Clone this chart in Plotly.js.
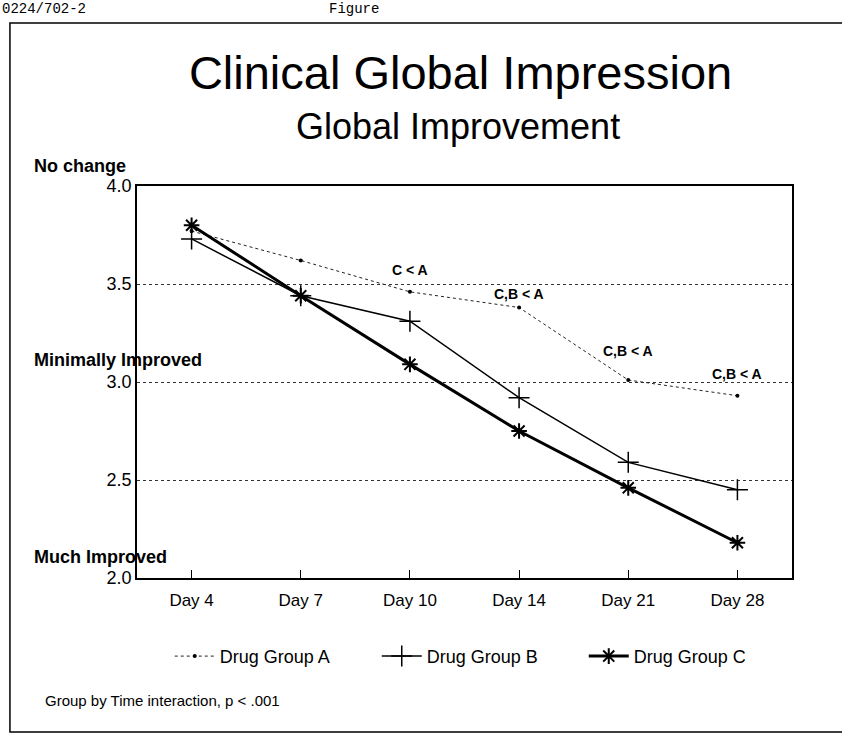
<!DOCTYPE html>
<html>
<head>
<meta charset="utf-8">
<script src="https://cdn.plot.ly/plotly-3.0.1.min.js"></script>
<style>html,body{margin:0;padding:0;background:#fff;}#chart{width:842px;height:737px;}</style>
</head>
<body>
<div id="chart"></div>
<script>
// ---- data ----
const days = ['Day 4', 'Day 7', 'Day 10', 'Day 14', 'Day 21', 'Day 28'];
const groupA = [3.77, 3.62, 3.46, 3.38, 3.01, 2.93];
const groupB = [3.73, 3.44, 3.31, 2.92, 2.59, 2.45];
const groupC = [3.80, 3.44, 3.09, 2.75, 2.46, 2.18];
const seriesNames = ['Drug Group A', 'Drug Group B', 'Drug Group C'];
const sigDays = ['Day 10', 'Day 14', 'Day 21', 'Day 28'];
const sigLabels = ['C < A', 'C,B < A', 'C,B < A', 'C,B < A'];
const sigY = [3.57, 3.45, 3.16, 3.04];
const yTicks = [2.0, 2.5, 3.0, 3.5, 4.0];
const anchorLabels = ['No change', 'Minimally Improved', 'Much Improved'];
const anchorY = [4.0, 3.0, 2.0];

const FONT = 'Liberation Sans, Arial, Helvetica, sans-serif';

const traces = [
  {x: days, y: groupA, name: seriesNames[0], type: 'scatter', mode: 'lines+markers',
   line: {color: '#222', width: 1, dash: 'dot'}, marker: {symbol: 'circle', size: 4, color: '#000'}},
  {x: days, y: groupB, name: seriesNames[1], type: 'scatter', mode: 'lines+markers',
   line: {color: '#000', width: 1.5}, marker: {symbol: 'cross-thin-open', size: 15, line: {color: '#000', width: 1.5}}},
  {x: days, y: groupC, name: seriesNames[2], type: 'scatter', mode: 'lines+markers',
   line: {color: '#000', width: 3}, marker: {symbol: 'asterisk-open', size: 13, line: {color: '#000', width: 2}}}
];

const annotations = [];
sigDays.forEach((d, i) => annotations.push({
  x: d, y: sigY[i], xref: 'x', yref: 'y', text: sigLabels[i], showarrow: false,
  font: {family: FONT, size: 14, color: '#000', weight: 'bold'}
}));
const anchorShift = [20, 22, 21];
anchorLabels.forEach((t, i) => annotations.push({
  x: -0.161, xref: 'paper', xanchor: 'left', y: anchorY[i], yref: 'y', yshift: anchorShift[i],
  text: '<b>' + t + '</b>', showarrow: false, font: {family: FONT, size: 18, color: '#000'}
}));
annotations.push({
  x: 0.49, xref: 'paper', y: 1.0, yref: 'paper', yanchor: 'middle', yshift: 60,
  text: 'Global Improvement', showarrow: false, font: {family: FONT, size: 36, color: '#000'}
});
annotations.push({
  x: -0.143, xref: 'paper', xanchor: 'left', y: -0.31, yref: 'paper', yanchor: 'middle', yshift: -1,
  text: 'Group by Time interaction, p < .001', showarrow: false, font: {family: FONT, size: 15, color: '#000'}
});
annotations.push({
  x: -0.209, xref: 'paper', xanchor: 'left', y: 1.0, yref: 'paper', yanchor: 'middle', yshift: 177,
  text: '0224/702-2', showarrow: false, font: {family: 'Liberation Mono, Courier New, monospace', size: 14, color: '#000'}
});
annotations.push({
  x: 0.29, xref: 'paper', xanchor: 'left', y: 1.0, yref: 'paper', yanchor: 'middle', yshift: 177,
  text: 'Figure', showarrow: false, font: {family: 'Liberation Mono, Courier New, monospace', size: 14, color: '#000'}
});

const layout = {
  width: 842, height: 737,
  paper_bgcolor: '#fff', plot_bgcolor: '#fff',
  margin: {l: 137, r: 50, t: 186, b: 159},
  font: {family: FONT, color: '#000'},
  title: {text: 'Clinical Global Impression', font: {family: FONT, size: 47, color: '#000'},
          x: 0.547, xanchor: 'center', y: 0.902, yanchor: 'middle'},
  showlegend: true,
  legend: {orientation: 'h', x: 0.05, xanchor: 'left', y: -0.2, yanchor: 'middle',
           font: {family: FONT, size: 18, color: '#000'}, itemwidth: 40,
           entrywidth: 152, entrywidthmode: 'pixels'},
  xaxis: {type: 'category', range: [-0.5, 5.5], showline: true, linecolor: '#000', linewidth: 1.5, mirror: true,
          ticks: 'inside', ticklen: 8, tickcolor: '#000', showgrid: false, zeroline: false, ticklabelstandoff: 6,
          tickfont: {family: FONT, size: 17, color: '#000'}},
  yaxis: {range: [2.0, 4.0], tickvals: yTicks, tickformat: '.1f', showline: true, linecolor: '#000', linewidth: 1.5,
          mirror: true, ticks: '', showgrid: true, gridcolor: '#333', gridwidth: 1, griddash: 'dot', zeroline: false,
          tickfont: {family: FONT, size: 18, color: '#000'}},
  annotations: annotations,
  shapes: [{type: 'rect', xref: 'paper', yref: 'paper', x0: -0.194, x1: 1.09, y0: -0.393, y1: 1.416,
            line: {color: '#000', width: 1.5}}]
};

Plotly.newPlot('chart', traces, layout, {displayModeBar: false});
</script>
</body>
</html>
